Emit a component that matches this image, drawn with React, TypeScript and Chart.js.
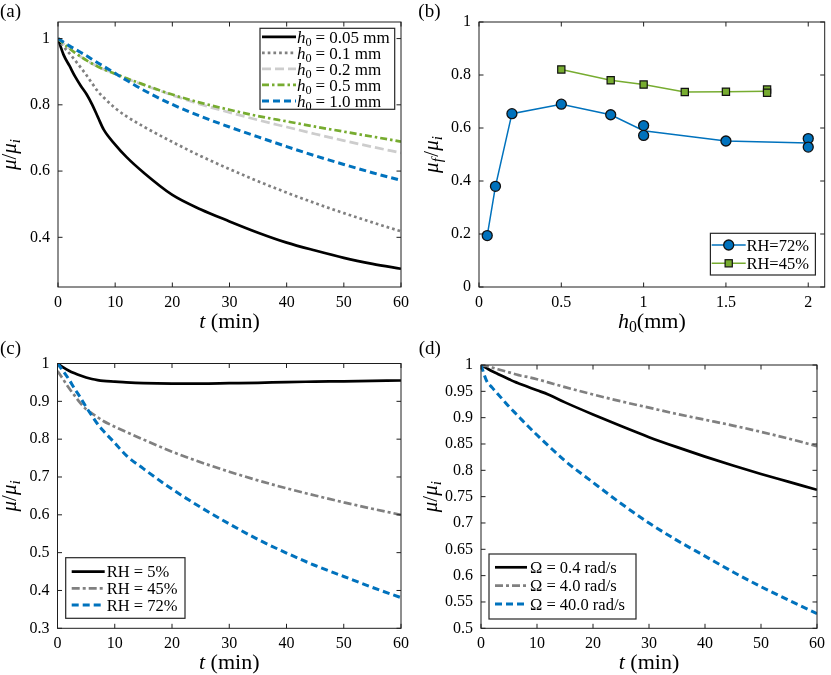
import React, { useEffect, useRef } from 'react';
import { Chart, registerables } from 'chart.js';

Chart.register(...registerables);

const FONT = '"Liberation Serif", "Times New Roman", Times, serif';

const BLACK = '#000000';
const GRAY = '#808080';
const LIGHT_GRAY = '#cdcdcd';
const GREEN = '#77ac30';
const BLUE = '#0072bd';

// ---------- Panel (a): mu/mu_i vs t for several h0 ----------
const T_A = [0, 1, 2, 3, 4, 5, 6, 7, 8, 10, 12, 15, 20, 25, 30, 35, 40, 45, 50, 55, 60];
const A_H005 = [1, 0.95, 0.918, 0.885, 0.857, 0.832, 0.8, 0.762, 0.725, 0.68, 0.642, 0.595, 0.528, 0.484, 0.448, 0.414, 0.384, 0.36, 0.338, 0.32, 0.305];
const A_H01 = [1, 0.975, 0.955, 0.934, 0.912, 0.889, 0.864, 0.84, 0.822, 0.79, 0.765, 0.734, 0.688, 0.645, 0.606, 0.569, 0.535, 0.503, 0.473, 0.445, 0.418];
const A_H02 = [1, 0.984, 0.97, 0.957, 0.945, 0.934, 0.924, 0.915, 0.907, 0.893, 0.879, 0.86, 0.829, 0.801, 0.777, 0.754, 0.733, 0.712, 0.692, 0.673, 0.655];
const A_H05 = [1, 0.984, 0.97, 0.957, 0.945, 0.934, 0.924, 0.915, 0.907, 0.894, 0.88, 0.861, 0.831, 0.806, 0.785, 0.766, 0.75, 0.734, 0.719, 0.704, 0.689];
const A_H10 = [1, 0.989, 0.978, 0.968, 0.958, 0.948, 0.937, 0.926, 0.916, 0.895, 0.874, 0.844, 0.801, 0.765, 0.733, 0.703, 0.674, 0.646, 0.62, 0.595, 0.572];
const A_XTICKS = [0, 10, 20, 30, 40, 50, 60];
const A_XLABELS = ['0', '10', '20', '30', '40', '50', '60'];
const A_YTICKS = [0.4, 0.6, 0.8, 1];
const A_YLABELS = ['0.4', '0.6', '0.8', '1'];

// ---------- Panel (b): mu_f/mu_i vs h0 ----------
const B_X72 = [0.05, 0.1, 0.2, 0.5, 0.8, 1.0, 1.5, 2.0];
const B_Y72 = [0.194, 0.38, 0.654, 0.69, 0.65, 0.59, 0.551, 0.543];
const B_MARK72 = [true, true, true, true, true, false, true, false];
const B_X72_REP = [1.0, 1.0, 2.0, 2.0];
const B_Y72_REP = [0.609, 0.572, 0.56, 0.528];
const B_X45 = [0.5, 0.8, 1.0, 1.25, 1.5, 1.75];
const B_Y45 = [0.821, 0.78, 0.764, 0.736, 0.737, 0.739];
const B_MARK45 = [true, true, true, true, true, false];
const B_X45_REP = [1.75, 1.75];
const B_Y45_REP = [0.745, 0.733];
const B_XTICKS = [0, 0.5, 1, 1.5, 2];
const B_XLABELS = ['0', '0.5', '1', '1.5', '2'];
const B_YTICKS = [0, 0.2, 0.4, 0.6, 0.8, 1];
const B_YLABELS = ['0', '0.2', '0.4', '0.6', '0.8', '1'];

// ---------- Panel (c): mu/mu_i vs t for several RH ----------
const T_C = [0, 1, 2, 3, 4, 5, 6, 7, 8, 10, 12, 15, 20, 25, 30, 35, 40, 45, 50, 55, 60];
const C_RH5 = [1, 0.99, 0.981, 0.974, 0.968, 0.963, 0.959, 0.956, 0.954, 0.952, 0.95, 0.948, 0.947, 0.947, 0.948, 0.949, 0.951, 0.952, 0.953, 0.954, 0.955];
const C_RH45 = [0.98, 0.958, 0.935, 0.915, 0.895, 0.879, 0.868, 0.858, 0.848, 0.833, 0.819, 0.799, 0.767, 0.739, 0.714, 0.691, 0.67, 0.651, 0.633, 0.616, 0.6];
const C_RH72 = [1, 0.98, 0.958, 0.933, 0.91, 0.885, 0.862, 0.84, 0.822, 0.79, 0.757, 0.722, 0.668, 0.62, 0.576, 0.535, 0.499, 0.466, 0.437, 0.408, 0.381];
const C_YTICKS = [0.3, 0.4, 0.5, 0.6, 0.7, 0.8, 0.9, 1];
const C_YLABELS = ['0.3', '0.4', '0.5', '0.6', '0.7', '0.8', '0.9', '1'];

// ---------- Panel (d): mu/mu_i vs t for several Omega ----------
const T_D = [0, 1, 2, 3, 4, 5, 6, 7, 8, 10, 12, 15, 20, 25, 30, 35, 40, 45, 50, 55, 60];
const D_W04 = [1, 0.994, 0.988, 0.983, 0.978, 0.973, 0.968, 0.964, 0.96, 0.952, 0.944, 0.929, 0.906, 0.884, 0.863, 0.844, 0.826, 0.809, 0.793, 0.778, 0.763];
const D_W4 = [1, 0.998, 0.995, 0.992, 0.989, 0.986, 0.983, 0.98, 0.978, 0.973, 0.967, 0.958, 0.944, 0.931, 0.919, 0.907, 0.896, 0.885, 0.873, 0.86, 0.846];
const D_W40 = [1, 0.97, 0.957, 0.945, 0.933, 0.921, 0.91, 0.899, 0.888, 0.867, 0.847, 0.818, 0.777, 0.737, 0.7, 0.667, 0.637, 0.607, 0.579, 0.553, 0.528];
const D_YTICKS = [0.5, 0.55, 0.6, 0.65, 0.7, 0.75, 0.8, 0.85, 0.9, 0.95, 1];
const D_YLABELS = ['0.5', '0.55', '0.6', '0.65', '0.7', '0.75', '0.8', '0.85', '0.9', '0.95', '1'];

// ---------- helpers ----------
type Seg = { t: string; it?: boolean; sub?: boolean; gap?: number };

interface LegendRow { label: Seg[]; color: string; width: number; dash: number[]; marker?: 'circle' | 'rect' }
interface LegendCfg {
  corner: 'tr' | 'br' | 'bl'; dx: number; dy: number; w: number; h: number;
  rowY0: number; rowH: number; lineX: number; lineLen: number; textX: number; size: number;
  rows: LegendRow[];
}
interface AxisCfg { min: number; max: number; ticks: number[]; labels: string[] }
interface PanelCfg {
  tag: string; tagX: number; tagY: number;
  left: number; top: number; width: number; height: number;
  padTop: number; padRight: number; yAxisW: number; xAxisH: number;
  x: AxisCfg; y: AxisCfg;
  datasets: any[];
  xTitle: Seg[]; yTitle: Seg[]; yTitleDx: number;
  legend: LegendCfg;
}

const xy = (xs: number[], ys: number[]) => xs.map((x, i) => ({ x, y: ys[i] }));

function segFont(s: Seg, size: number) {
  const sz = s.sub ? size * 0.72 : size;
  return `${s.it ? 'italic ' : ''}${sz}px ${FONT}`;
}
function richWidth(ctx: CanvasRenderingContext2D, segs: Seg[], size: number) {
  let w = 0;
  for (const s of segs) {
    ctx.font = segFont(s, size);
    w += (s.gap || 0) + ctx.measureText(s.t).width;
  }
  return w;
}
function drawRich(ctx: CanvasRenderingContext2D, segs: Seg[], x: number, y: number, size: number, center: boolean) {
  let cx = center ? x - richWidth(ctx, segs, size) / 2 : x;
  ctx.textBaseline = 'alphabetic';
  ctx.textAlign = 'left';
  for (const s of segs) {
    ctx.font = segFont(s, size);
    cx += s.gap || 0;
    ctx.fillText(s.t, cx, y + (s.sub ? size * 0.2 : 0));
    cx += ctx.measureText(s.t).width;
  }
}

function lineSet(label: string, xs: number[], ys: number[], color: string, width: number, dash: number[], order: number) {
  return {
    label, data: xy(xs, ys), showLine: true, borderColor: color, borderWidth: width, borderDash: dash,
    pointRadius: 0, cubicInterpolationMode: 'monotone', fill: false, order,
  };
}

function makeDeco(cfg: PanelCfg) {
  const TL = 4.5;
  return {
    id: 'deco' + cfg.tag,
    afterDatasetsDraw(chart: any) {
      const ctx: CanvasRenderingContext2D = chart.ctx;
      const a = chart.chartArea;
      const xs = chart.scales.x;
      const ys = chart.scales.y;
      ctx.save();
      ctx.strokeStyle = '#1e1e1e';
      ctx.lineWidth = 1;
      ctx.setLineDash([]);
      ctx.beginPath();
      for (const v of cfg.x.ticks) {
        const p = xs.getPixelForValue(v);
        ctx.moveTo(p, a.bottom); ctx.lineTo(p, a.bottom - TL);
        ctx.moveTo(p, a.top); ctx.lineTo(p, a.top + TL);
      }
      for (const v of cfg.y.ticks) {
        const p = ys.getPixelForValue(v);
        ctx.moveTo(a.left, p); ctx.lineTo(a.left + TL, p);
        ctx.moveTo(a.right, p); ctx.lineTo(a.right - TL, p);
      }
      ctx.stroke();
      ctx.strokeRect(a.left, a.top, a.right - a.left, a.bottom - a.top);
      ctx.restore();
    },
    afterDraw(chart: any) {
      const ctx: CanvasRenderingContext2D = chart.ctx;
      const a = chart.chartArea;
      ctx.save();
      ctx.fillStyle = '#000';
      // axis titles
      drawRich(ctx, cfg.xTitle, (a.left + a.right) / 2, a.bottom + 40.5, 22, true);
      ctx.save();
      ctx.translate(a.left + cfg.yTitleDx, (a.top + a.bottom) / 2);
      ctx.rotate(-Math.PI / 2);
      drawRich(ctx, cfg.yTitle, 0, 0, 21, true);
      ctx.restore();
      // panel tag
      ctx.font = `19px ${FONT}`;
      ctx.textAlign = 'left';
      ctx.textBaseline = 'alphabetic';
      ctx.fillText(cfg.tag, cfg.tagX, cfg.tagY);
      // legend
      const lg = cfg.legend;
      const bx = lg.corner === 'bl' ? a.left + lg.dx : a.right - lg.dx - lg.w;
      const by = lg.corner === 'tr' ? a.top + lg.dy : a.bottom - lg.dy - lg.h;
      ctx.fillStyle = '#ffffff';
      ctx.fillRect(bx, by, lg.w, lg.h);
      ctx.strokeStyle = '#262626';
      ctx.lineWidth = 1.2;
      ctx.strokeRect(bx, by, lg.w, lg.h);
      lg.rows.forEach((r, i) => {
        const ry = by + lg.rowY0 + i * lg.rowH;
        ctx.save();
        ctx.strokeStyle = r.color;
        ctx.lineWidth = r.width;
        ctx.setLineDash(r.dash);
        ctx.beginPath();
        ctx.moveTo(bx + lg.lineX, ry);
        ctx.lineTo(bx + lg.lineX + lg.lineLen, ry);
        ctx.stroke();
        ctx.restore();
        const mx = bx + lg.lineX + lg.lineLen / 2;
        if (r.marker === 'circle') {
          ctx.beginPath();
          ctx.arc(mx, ry, 5, 0, Math.PI * 2);
          ctx.fillStyle = r.color; ctx.fill();
          ctx.strokeStyle = '#111'; ctx.lineWidth = 1.3; ctx.stroke();
        } else if (r.marker === 'rect') {
          ctx.fillStyle = r.color;
          ctx.fillRect(mx - 3.6, ry - 3.6, 7.2, 7.2);
          ctx.strokeStyle = '#111'; ctx.lineWidth = 1.2;
          ctx.strokeRect(mx - 3.6, ry - 3.6, 7.2, 7.2);
        }
        ctx.fillStyle = '#000';
        drawRich(ctx, r.label, bx + lg.textX, ry + lg.size * 0.34, lg.size, false);
      });
      ctx.restore();
    },
  };
}

const hLabel = (v: string): Seg[] => [{ t: 'h', it: true }, { t: '0', sub: true }, { t: '=', gap: 4 }, { t: v, gap: 4 }];
const T_TITLE: Seg[] = [{ t: 't', it: true }, { t: ' (min)' }];
const MU_TITLE: Seg[] = [{ t: 'μ', it: true }, { t: '/' }, { t: 'μ', it: true }, { t: 'i', it: true, sub: true }];

const DASH_DOT = [7, 3, 2.5, 3];
const DASH_DOT_G = [8, 3, 3, 3];

const PANELS: PanelCfg[] = [
  {
    tag: '(a)', tagX: 0, tagY: 17.3,
    left: 0, top: 0, width: 415, height: 337,
    padTop: 22, padRight: 13, yAxisW: 58, xAxisH: 50,
    x: { min: 0, max: 60, ticks: A_XTICKS, labels: A_XLABELS },
    y: { min: 0.25, max: 1.05, ticks: A_YTICKS, labels: A_YLABELS },
    datasets: [
      lineSet('h0=0.05 mm', T_A, A_H005, BLACK, 2.7, [], 5),
      lineSet('h0=0.1 mm', T_A, A_H01, GRAY, 2.7, [2.7, 3], 4),
      lineSet('h0=0.2 mm', T_A, A_H02, LIGHT_GRAY, 2.7, [9, 4], 3),
      lineSet('h0=0.5 mm', T_A, A_H05, GREEN, 2.7, DASH_DOT, 2),
      lineSet('h0=1.0 mm', T_A, A_H10, BLUE, 3, [7, 4], 1),
    ],
    xTitle: T_TITLE, yTitle: MU_TITLE, yTitleDx: -42,
    legend: {
      corner: 'tr', dx: 6.3, dy: 6.3, w: 134.7, h: 81, rowY0: 8.6, rowH: 16,
      lineX: 2, lineLen: 34, textX: 37, size: 17,
      rows: [
        { label: hLabel('0.05 mm'), color: BLACK, width: 2.7, dash: [] },
        { label: hLabel('0.1 mm'), color: GRAY, width: 2.7, dash: [2.7, 3] },
        { label: hLabel('0.2 mm'), color: LIGHT_GRAY, width: 2.7, dash: [9, 4] },
        { label: hLabel('0.5 mm'), color: GREEN, width: 2.7, dash: DASH_DOT },
        { label: hLabel('1.0 mm'), color: BLUE, width: 3, dash: [7, 4] },
      ],
    },
  },
  {
    tag: '(b)', tagX: 3.3, tagY: 17.3,
    left: 415, top: 0, width: 416, height: 337,
    padTop: 22, padRight: 6, yAxisW: 64, xAxisH: 50,
    x: { min: 0, max: 2.1, ticks: B_XTICKS, labels: B_XLABELS },
    y: { min: 0, max: 1, ticks: B_YTICKS, labels: B_YLABELS },
    datasets: [
      {
        label: 'RH=72%', data: xy(B_X72, B_Y72), showLine: true, borderColor: BLUE, borderWidth: 1.5,
        pointRadius: B_MARK72.map((m) => (m ? 5 : 0)), pointStyle: 'circle',
        pointBackgroundColor: BLUE, pointBorderColor: '#111', pointBorderWidth: 1.3, order: 2,
      },
      {
        label: 'RH=72% repeats', data: xy(B_X72_REP, B_Y72_REP), showLine: false,
        pointRadius: 5, pointStyle: 'circle', pointBackgroundColor: BLUE, pointBorderColor: '#111', pointBorderWidth: 1.3, order: 1,
      },
      {
        label: 'RH=45%', data: xy(B_X45, B_Y45), showLine: true, borderColor: GREEN, borderWidth: 1.5,
        pointRadius: B_MARK45.map((m) => (m ? 5.1 : 0)), pointStyle: 'rect',
        pointBackgroundColor: GREEN, pointBorderColor: '#111', pointBorderWidth: 1.2, order: 4,
      },
      {
        label: 'RH=45% repeats', data: xy(B_X45_REP, B_Y45_REP), showLine: false,
        pointRadius: 5.1, pointStyle: 'rect', pointBackgroundColor: GREEN, pointBorderColor: '#111', pointBorderWidth: 1.2, order: 3,
      },
    ],
    xTitle: [{ t: 'h', it: true }, { t: '0', sub: true }, { t: '(mm)' }],
    yTitle: [{ t: 'μ', it: true }, { t: 'f', it: true, sub: true }, { t: '/', gap: 1.5 }, { t: 'μ', it: true }, { t: 'i', it: true, sub: true }],
    yTitleDx: -41.3,
    legend: {
      corner: 'br', dx: 9.3, dy: 12, w: 105, h: 41.7, rowY0: 11.7, rowH: 18.3,
      lineX: 1.3, lineLen: 34, textX: 36, size: 16.5,
      rows: [
        { label: [{ t: 'RH=72%' }], color: BLUE, width: 1.5, dash: [], marker: 'circle' },
        { label: [{ t: 'RH=45%' }], color: GREEN, width: 1.5, dash: [], marker: 'rect' },
      ],
    },
  },
  {
    tag: '(c)', tagX: 0, tagY: 17.3,
    left: 0, top: 337, width: 415, height: 338,
    padTop: 26.5, padRight: 13.3, yAxisW: 57.5, xAxisH: 46.7,
    x: { min: 0, max: 60, ticks: A_XTICKS, labels: A_XLABELS },
    y: { min: 0.3, max: 1, ticks: C_YTICKS, labels: C_YLABELS },
    datasets: [
      lineSet('RH = 5%', T_C, C_RH5, BLACK, 2.7, [], 3),
      lineSet('RH = 45%', T_C, C_RH45, GRAY, 2.7, DASH_DOT_G, 2),
      lineSet('RH = 72%', T_C, C_RH72, BLUE, 3, [7, 4], 1),
    ],
    xTitle: T_TITLE, yTitle: MU_TITLE, yTitleDx: -41.5,
    legend: {
      corner: 'bl', dx: 8.2, dy: 10, w: 119.3, h: 60.6, rowY0: 14, rowH: 16.7,
      lineX: 6, lineLen: 33, textX: 41, size: 16.5,
      rows: [
        { label: [{ t: 'RH = 5%' }], color: BLACK, width: 2.7, dash: [] },
        { label: [{ t: 'RH = 45%' }], color: GRAY, width: 2.7, dash: DASH_DOT_G },
        { label: [{ t: 'RH = 72%' }], color: BLUE, width: 3, dash: [7, 4] },
      ],
    },
  },
  {
    tag: '(d)', tagX: 3.7, tagY: 17.3,
    left: 415, top: 337, width: 416, height: 338,
    padTop: 28, padRight: 7.5, yAxisW: 66, xAxisH: 46.7,
    x: { min: 0, max: 60, ticks: A_XTICKS, labels: A_XLABELS },
    y: { min: 0.5, max: 1, ticks: D_YTICKS, labels: D_YLABELS },
    datasets: [
      lineSet('Ω = 0.4 rad/s', T_D, D_W04, BLACK, 2.7, [], 3),
      lineSet('Ω = 4.0 rad/s', T_D, D_W4, GRAY, 2.7, DASH_DOT_G, 2),
      lineSet('Ω = 40.0 rad/s', T_D, D_W40, BLUE, 3, [7, 4], 1),
    ],
    xTitle: T_TITLE, yTitle: MU_TITLE, yTitleDx: -44,
    legend: {
      corner: 'bl', dx: 8, dy: 9.3, w: 147, h: 65, rowY0: 13.3, rowH: 18.3,
      lineX: 6, lineLen: 32, textX: 41, size: 16.5,
      rows: [
        { label: [{ t: 'Ω = 0.4 rad/s' }], color: BLACK, width: 2.7, dash: [] },
        { label: [{ t: 'Ω = 4.0 rad/s' }], color: GRAY, width: 2.7, dash: DASH_DOT_G },
        { label: [{ t: 'Ω = 40.0 rad/s' }], color: BLUE, width: 3, dash: [7, 4] },
      ],
    },
  },
];

function axisOptions(ax: AxisCfg, horizontal: boolean, size: number) {
  return {
    type: 'linear',
    min: ax.min,
    max: ax.max,
    afterBuildTicks: (s: any) => { s.ticks = ax.ticks.map((v) => ({ value: v })); },
    afterFit: (s: any) => { if (horizontal) s.height = size; else s.width = size; },
    grid: { display: false, drawTicks: false },
    border: { display: false },
    ticks: {
      autoSkip: false, maxRotation: 0, minRotation: 0,
      padding: horizontal ? 6 : 8,
      color: '#000',
      font: { family: FONT, size: 16 },
      callback: (_v: any, i: number) => ax.labels[i],
    },
  };
}

function Panel({ cfg }: { cfg: PanelCfg }) {
  const ref = useRef<HTMLCanvasElement | null>(null);
  useEffect(() => {
    if (!ref.current) return;
    const chart = new Chart(ref.current, {
      type: 'scatter',
      data: { datasets: cfg.datasets },
      options: {
        responsive: false,
        animation: false,
        events: [],
        layout: { padding: { top: cfg.padTop, right: cfg.padRight, left: 0, bottom: 0 } },
        plugins: { legend: { display: false }, tooltip: { enabled: false } },
        scales: {
          x: axisOptions(cfg.x, true, cfg.xAxisH),
          y: axisOptions(cfg.y, false, cfg.yAxisW),
        } as any,
      },
      plugins: [makeDeco(cfg)],
    } as any);
    return () => chart.destroy();
  }, [cfg]);
  return (
    <canvas
      ref={ref}
      width={cfg.width}
      height={cfg.height}
      style={{ position: 'absolute', left: cfg.left, top: cfg.top, width: cfg.width, height: cfg.height }}
    />
  );
}

export default function App() {
  return (
    <div style={{ position: 'fixed', left: 0, top: 0, width: 831, height: 675, background: '#fff', overflow: 'hidden' }}>
      {PANELS.map((p) => (
        <Panel key={p.tag} cfg={p} />
      ))}
    </div>
  );
}
